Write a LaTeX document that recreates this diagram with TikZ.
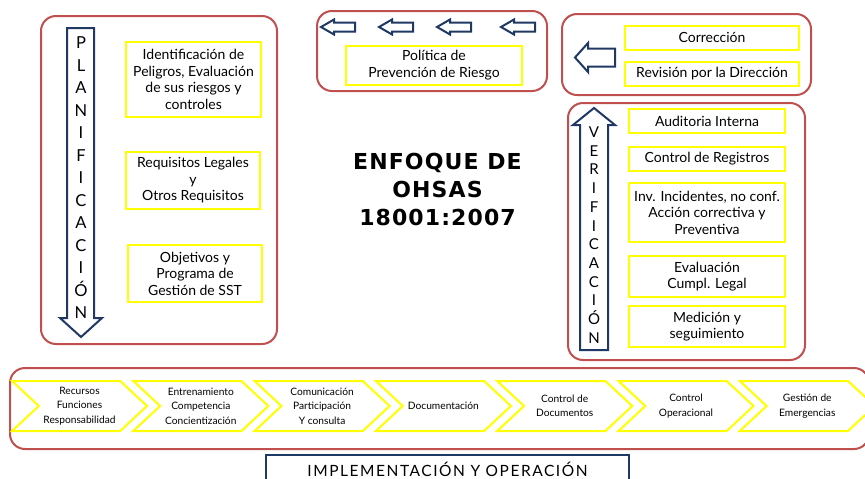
\documentclass[tikz,border=0pt]{standalone}
\usepackage{fontspec}
\setmainfont{Lato}
\newfontfamily\titulofont{DejaVu Sans}
\usetikzlibrary{shapes.symbols}
\definecolor{rojo}{RGB}{192,80,77}
\definecolor{azul}{RGB}{31,56,100}
\definecolor{amarillo}{RGB}{255,255,0}
\tikzstyle{grupo} = [rectangle, rounded corners=15pt, draw=rojo, line width=2pt, inner sep=0pt]
\tikzstyle{caja} = [rectangle, draw=amarillo, line width=2pt, align=center, inner sep=0pt, font=\fontsize{14}{16.5}\selectfont]
\tikzstyle{chevron} = [signal, signal to=east, signal from=west, signal pointer angle=86, draw=amarillo, line width=2pt, minimum width=135pt, minimum height=50pt, inner sep=0pt, align=center, font=\fontsize{10.2}{14.5}\selectfont]
\tikzstyle{flecha} = [draw=azul, line width=2pt, line join=miter, fill=white]
\tikzstyle{letras} = [align=center, inner sep=0pt]

\begin{document}
\begin{tikzpicture}[x=1pt, y=-1pt]
\useasboundingbox (0,0) rectangle (865,479);

% planificacion
\node (plan) [grupo, minimum width=236pt, minimum height=328pt] at (159,180) {};
\draw [flecha] (67,28) -- (94,28) -- (94,318) -- (102,318) -- (81,337) -- (60,318) -- (67,318) -- cycle;
\node (planletras) [letras, font=\fontsize{16.5}{22.5}\selectfont] at (81,178) {P\\L\\A\\N\\I\\F\\I\\C\\A\\C\\I\\Ó\\N};
\node (peligros) [caja, minimum width=135pt, minimum height=75pt] at (193.5,79.5) {Identificación de\\Peligros, Evaluación\\de sus riesgos y\\controles};
\node (requisitos) [caja, minimum width=134pt, minimum height=57pt] at (193,180.5) {Requisitos Legales\\y\\Otros Requisitos};
\node (objetivos) [caja, minimum width=134pt, minimum height=57pt] at (195,273.5) {Objetivos y\\Programa de\\Gestión de SST};

% politica
\node (polgrupo) [grupo, minimum width=230pt, minimum height=80pt] at (432,51) {};
\foreach \x in {321,379,437,501}
  \draw [flecha] (\x,27) -- (\x+13,19.5) -- (\x+13,22.5) -- (\x+34,22.5) -- (\x+34,31.5) -- (\x+13,31.5) -- (\x+13,34.5) -- cycle;
\node (politica) [caja, minimum width=176pt, minimum height=39pt] at (434,65) {Política de\\Prevención de Riesgo};

% revision
\node (revgrupo) [grupo, minimum width=249pt, minimum height=81pt] at (686.5,54.5) {};
\draw [flecha] (575,57.5) -- (588,43) -- (588,48.5) -- (615,48.5) -- (615,66.5) -- (588,66.5) -- (588,72) -- cycle;
\node (correccion) [caja, minimum width=174pt, minimum height=24pt] at (712,37.5) {Corrección};
\node (revision) [caja, minimum width=174pt, minimum height=24pt] at (712,73.5) {Revisión por la Dirección};

% verificacion
\node (verif) [grupo, minimum width=237pt, minimum height=257pt] at (686.5,231.5) {};
\draw [flecha] (580,350) -- (580,125) -- (573,125) -- (594,108) -- (615,125) -- (608,125) -- (608,350) -- cycle;
\node (verifletras) [letras, font=\fontsize{15}{18.7}\selectfont] at (594,235) {V\\E\\R\\I\\F\\I\\C\\A\\C\\I\\Ó\\N};
\node (auditoria) [caja, minimum width=156pt, minimum height=24pt] at (707,121) {Auditoria Interna};
\node (registros) [caja, minimum width=156pt, minimum height=24pt] at (707,159) {Control de Registros};
\node (incidentes) [caja, minimum width=156pt, minimum height=59pt] at (707,212.5) {Inv. Incidentes, no conf.\\Acción correctiva y\\Preventiva};
\node (evaluacion) [caja, minimum width=156pt, minimum height=41pt] at (707,276.5) {Evaluación\\Cumpl. Legal};
\node (medicion) [caja, minimum width=156pt, minimum height=41pt] at (707,326.5) {Medición y\\seguimiento};

% titulo
\node (titulo) [align=center, font=\titulofont\bfseries\fontsize{22}{28}\selectfont\addfontfeature{LetterSpace=5}] at (437.5,189) {ENFOQUE DE\\OHSAS\\18001:2007};

% implementacion y operacion
\node (implgrupo) [grupo, minimum width=859pt, minimum height=81pt, anchor=west] at (9,408.5) {};
\foreach \t [count=\i from 0] in {{Recursos\\Funciones\\Responsabilidad}, {Entrenamiento\\Competencia\\Concientización}, {Comunicación\\Participación\\Y consulta}, {Documentación}, {Control de\\Documentos}, {Control\\Operacional}, {Gestión de\\Emergencias}}
  \node (paso\i) [chevron] at (12+121.3*\i+67.5,406) {\t};
\node (impl) [inner sep=0pt, font=\fontsize{15.5}{18}\selectfont\addfontfeature{LetterSpace=10}] at (447.5,469) {IMPLEMENTACIÓN Y OPERACIÓN};
\draw [azul, line width=2pt] (266,485) -- (266,455) -- (629,455) -- (629,485);

\end{tikzpicture}
\end{document}
